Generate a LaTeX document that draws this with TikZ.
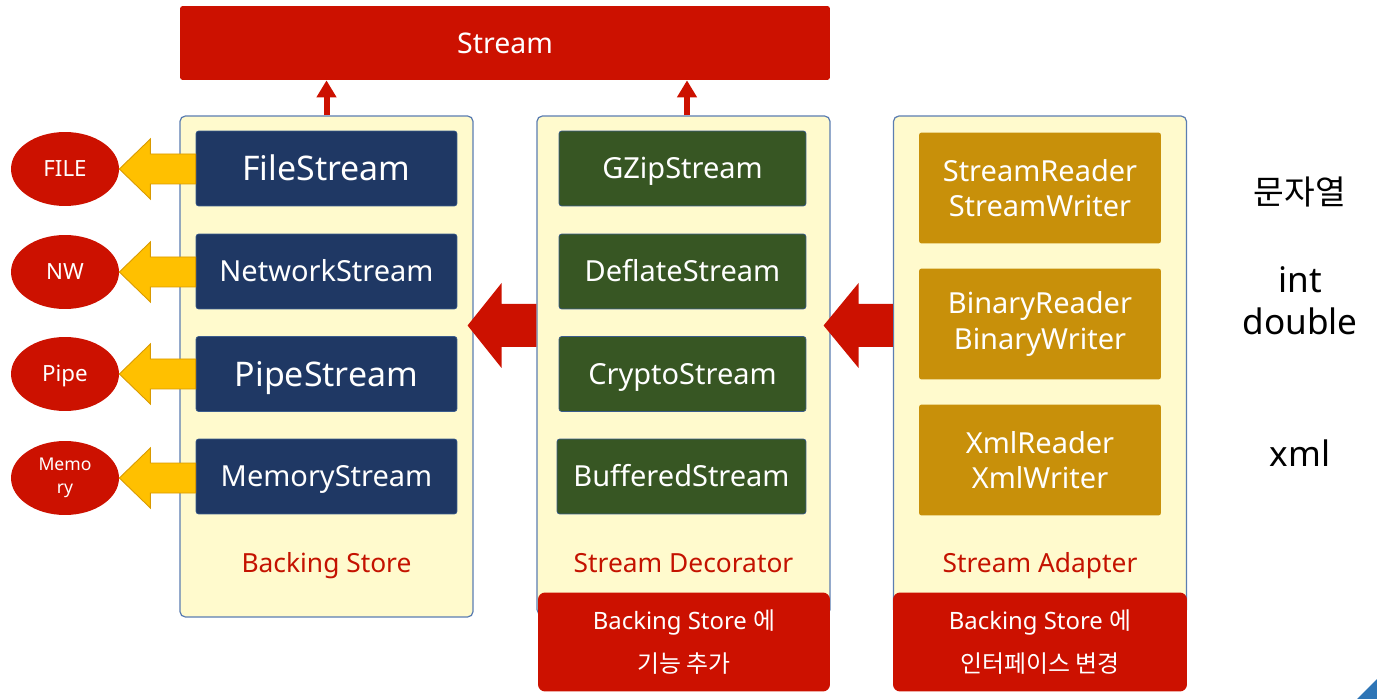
\documentclass[tikz,border=0pt]{standalone}
\usepackage{fontspec}
\setmainfont{Noto Sans}
\newfontfamily\krfont{Noto Sans CJK KR}
\usetikzlibrary{shapes.geometric, arrows.meta, positioning, calc}
\definecolor{streamred}{HTML}{CC1100}
\definecolor{labelred}{HTML}{C41200}
\definecolor{storeblue}{HTML}{1F3864}
\definecolor{decogreen}{HTML}{375623}
\definecolor{adaptgold}{HTML}{C8900A}
\definecolor{panelfill}{HTML}{FFFACD}
\definecolor{paneledge}{HTML}{5B7DB1}
\definecolor{boxedge}{HTML}{3B5C8C}
\definecolor{arrowgold}{HTML}{FFC000}
\definecolor{arrowedge}{HTML}{D99A00}
\definecolor{cornerblue}{HTML}{2E75B6}
\tikzset{
  capline/.style={text height=#1, text depth=0pt},
  panelbox/.style={draw=paneledge, fill=panelfill, rounded corners=3pt, line width=0.7pt,
                   minimum width=5.86cm, inner sep=0pt},
  storebox/.style={draw=boxedge, fill=storeblue, rounded corners=1.5pt, text=white,
                   minimum width=5.22cm, minimum height=1.5cm, inner sep=0pt},
  decobox/.style={draw=boxedge, fill=decogreen, rounded corners=1.5pt, text=white, capline=11.8pt,
                  minimum width=4.94cm, minimum height=1.5cm, inner sep=0pt,
                  font=\fontsize{16.5}{20}\selectfont},
  adaptbox/.style={fill=adaptgold, rounded corners=1.5pt, text=white, align=center,
                   minimum width=4.84cm, minimum height=2.22cm, inner sep=0pt,
                   font=\fontsize{16.5}{20}\selectfont},
  mediumnode/.style={ellipse, fill=streamred, text=white, align=center,
                     minimum width=2.16cm, minimum height=1.48cm, inner sep=0pt},
  notebox/.style={fill=streamred, rounded corners=4pt, text=white, align=center,
                  minimum width=5.84cm, minimum height=1.98cm, inner sep=0pt,
                  font=\fontsize{13.6}{24.5}\selectfont},
  panellabel/.style={text=labelred, capline=10.7pt, font=\fontsize{15}{18}\selectfont},
  typetext/.style={align=center, font=\fontsize{20}{24}\selectfont},
  bigname/.style={capline=13.8pt, font=\fontsize{19.3}{23}\selectfont},
  smallname/.style={capline=11.8pt, font=\fontsize{16.5}{20}\selectfont},
  uparrow/.style={draw=streamred, line width=0.12cm, -{Triangle[width=0.38cm, length=0.34cm]}},
  goldarrow/.style={fill=arrowgold, draw=arrowedge, line width=0.5pt},
  redarrow/.style={fill=streamred},
}
% left-pointing block arrow: style, tip, tail, half shaft, half head, head length
\newcommand{\leftblock}[6]{%
  \path[#1] (#2) -- ($(#2)+(#6,-#5)$) -- ($(#2)+(#6,-#4)$) -- ($(#3 |- #2)+(0,-#4)$)
    -- ($(#3 |- #2)+(0,#4)$) -- ($(#2)+(#6,#4)$) -- ($(#2)+(#6,#5)$) -- cycle;}

\begin{document}
\begin{tikzpicture}[x=0.02cm, y=-0.02cm]
  \useasboundingbox (0,0) rectangle (1377,699);

  % Stream (top)
  \node[fill=streamred, rounded corners=1.5pt, text=white, minimum width=13cm, minimum height=1.48cm,
        inner sep=0pt, capline=11.6pt, font=\fontsize{16.2}{20}\selectfont] (stream) at (505,43) {Stream};

  % three panels
  \node[panelbox, minimum height=10.02cm] (storepanel) at (326.5,366.5) {};
  \node[panelbox, minimum height=9.98cm] (decopanel) at (683.5,365.5) {};
  \node[panelbox, minimum height=9.98cm] (adaptpanel) at (1040,365.5) {};

  % up arrows to Stream
  \draw[uparrow] (storepanel.north) -- (storepanel.north |- stream.south);
  \draw[uparrow] ([xshift=0.07cm]decopanel.north) -- ([xshift=0.07cm]decopanel.north |- stream.south);

  % Backing Store
  \node[storebox, bigname] (filestream) at (326.5,168.5) {FileStream};
  \node[storebox, smallname] (netstream) at (326.5,271.5) {NetworkStream};
  \node[storebox, bigname] (pipestream) at (326.5,374) {PipeStream};
  \node[storebox, smallname] (memstream) at (326.5,476.5) {MemoryStream};
  \node[panellabel] (storelabel) at (326.5,563) {Backing Store};

  % Stream Decorator
  \node[decobox] (gzip) at (682.5,168.5) {GZipStream};
  \node[decobox] (deflate) at (682.5,271.5) {DeflateStream};
  \node[decobox] (crypto) at (682.5,374) {CryptoStream};
  \node[decobox, minimum width=4.98cm] (buffered) at (681.5,476.5) {BufferedStream};
  \node[panellabel] (decolabel) at (683.5,563) {Stream Decorator};

  % Stream Adapter
  \node[adaptbox] (textrw) at (1040,188) {StreamReader\\StreamWriter};
  \node[adaptbox] (binaryrw) at (1040,324) {BinaryReader\\BinaryWriter};
  \node[adaptbox] (xmlrw) at (1040,460) {XmlReader\\XmlWriter};
  \node[panellabel] (adaptlabel) at (1040,563) {Stream Adapter};

  % notes under the panels
  \node[notebox] (deconote) at (684,642) {Backing Store {\krfont 에}\\{\krfont 기능 추가}};
  \node[notebox, minimum width=5.88cm] (adaptnote) at (1040,642) {Backing Store {\krfont 에}\\{\krfont 인터페이스 변경}};

  % backing media
  \node[mediumnode, capline=9.1pt, font=\fontsize{12.7}{15}\selectfont] (file) at (65,169) {FILE};
  \node[mediumnode, capline=9.1pt, font=\fontsize{12.7}{15}\selectfont] (nw) at (65,272) {NW};
  \node[mediumnode, capline=9.1pt, font=\fontsize{12.7}{15}\selectfont] (pipe) at (65,374) {Pipe};
  \node[mediumnode, font=\fontsize{10}{13}\selectfont] (memory) at (65,478) {Memo\\ry};

  % gold arrows (stream -> medium)
  \leftblock{goldarrow}{file.east}{filestream.west}{15}{30}{31}
  \leftblock{goldarrow}{nw.east}{netstream.west}{15}{30}{31}
  \leftblock{goldarrow}{pipe.east}{pipestream.west}{15}{30}{31}
  \leftblock{goldarrow}{memory.east}{memstream.west}{15}{30}{31}

  % red arrows between panels
  \coordinate (storetip) at ($(storepanel.east |- 0,325.5)+(-6,0)$);
  \coordinate (decotip) at ($(decopanel.east |- 0,325.5)+(-7,0)$);
  \leftblock{redarrow}{storetip}{decopanel.west}{21.5}{42.5}{34}
  \leftblock{redarrow}{decotip}{adaptpanel.west}{21.5}{42.5}{35}

  % data types
  \node[typetext, font=\krfont\fontsize{19}{24}\selectfont] (strtype) at (1300,192) {문자열};
  \node[typetext] (numtype) at (1300,301) {int\\double};
  \node[typetext] (xmltype) at (1300,453) {xml};

  % corner mark
  \fill[cornerblue] (1357,699) -- (1377,679) -- (1377,699) -- cycle;
\end{tikzpicture}
\end{document}
